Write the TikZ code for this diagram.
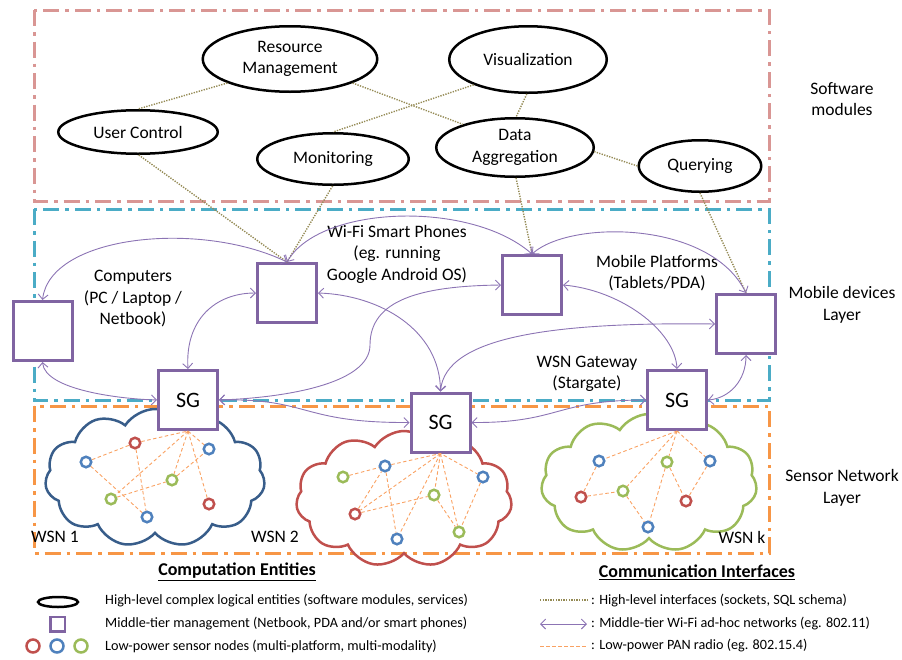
\documentclass[tikz,border=0pt]{standalone}
\usepackage{fontspec}
\setmainfont{Carlito}
\usetikzlibrary{shapes.geometric,shapes.symbols,arrows.meta}
\definecolor{swpink}{HTML}{D99694}
\definecolor{mobcyan}{HTML}{4BACC6}
\definecolor{snorange}{HTML}{F79646}
\definecolor{devpurple}{HTML}{8064A2}
\definecolor{arrpurple}{HTML}{8C74B4}
\definecolor{hlolive}{HTML}{948A54}
\definecolor{cblue}{HTML}{385D8A}
\definecolor{cred}{HTML}{C0504D}
\definecolor{cgreen}{HTML}{9BBB59}
\definecolor{nblue}{HTML}{4F81BD}
\definecolor{panor}{HTML}{F9A263}
\newcommand\lblfont{\fontsize{17.5}{21.5}\selectfont}
\newcommand\headfont{\fontsize{18}{21}\selectfont}
\newcommand\sgfont{\fontsize{22}{24}\selectfont}
\newcommand\legfont{\fontsize{14.2}{16}\selectfont}
\tikzset{
  layerbox/.style={line width=3pt, dash pattern=on 16pt off 6pt on 3.5pt off 6pt},
  modnode/.style={ellipse, draw=black, fill=white, line width=2.5pt, inner sep=0pt, align=center, font=\lblfont},
  devbox/.style={rectangle, draw=devpurple, fill=white, line width=3pt, minimum size=59pt, inner sep=0pt, font=\sgfont},
  hlink/.style={draw=hlolive, line width=1.4pt, dash pattern=on 1.3pt off 1.3pt},
  wifi/.style={draw=arrpurple, line width=0.9pt, {Straight Barb[length=5pt,width=10pt]}-{Straight Barb[length=5pt,width=10pt]}},
  pan/.style={draw=panor, line width=0.9pt, dash pattern=on 3.5pt off 2.5pt},
  snode/.style={circle, draw=#1, fill=white, line width=2.5pt, minimum size=10.5pt, inner sep=0pt},
  wsncloud/.style={cloud, cloud puffs=11, cloud puff arc=115, cloud ignores aspect, draw=#1, line width=2.5pt, inner sep=0pt},
  lbl/.style={align=center, font=\lblfont, inner sep=0pt},
  legtxt/.style={anchor=west, font=\legfont, inner sep=0pt},
}
\begin{document}
\begin{tikzpicture}[x=1pt,y=-1pt]
\useasboundingbox (0,0) rectangle (902,659);

% layer frames
\draw[layerbox, draw=swpink] (34,10) rectangle (769,201);
\draw[layerbox, draw=mobcyan] (34,209) rectangle (769,400);
\draw[layerbox, draw=snorange] (34,406) rectangle (769,553);

% layer labels
\node[lbl] (lsw) at (842,99) {Software\\modules};
\node[lbl] (lmob) at (842,305) {Mobile devices\\Layer};
\node[lbl] (lsn) at (842,488) {Sensor Network\\Layer};

% software modules
\node[modnode, minimum width=174.5pt, minimum height=65.5pt] (rm) at (290,59) {Resource\\Management};
\node[modnode, minimum width=157.5pt, minimum height=66.5pt] (vis) at (528,59.5) {Visualization};
\node[modnode, minimum width=159.5pt, minimum height=43.5pt] (uc) at (138,132) {User Control};
\node[modnode, minimum width=151.5pt, minimum height=51.5pt] (mon) at (333,159) {Monitoring};
\node[modnode, minimum width=157.5pt, minimum height=58.5pt] (da) at (515,147.5) {Data\\Aggregation};
\node[modnode, minimum width=122.5pt, minimum height=51.5pt] (qry) at (700,166) {Querying};

% clouds
\node[wsncloud=cblue, minimum width=220pt, minimum height=138pt] (cl1) at (155,478) {};
\node[wsncloud=cred, minimum width=216pt, minimum height=136pt] (cl2) at (404,499) {};
\node[wsncloud=cgreen, minimum width=216pt, minimum height=138pt] (cl3) at (649,483) {};

% device boxes
\node[devbox] (comp) at (42.5,331) {};
\node[devbox] (ph1) at (287,293) {};
\node[devbox] (ph2) at (532,285) {};
\node[devbox] (mob) at (746,324) {};
\node[devbox] (sg1) at (188,400) {SG};
\node[devbox] (sg2) at (440.5,422.5) {SG};
\node[devbox] (sg3) at (677,400) {SG};

% device labels
\node[lbl] (lcomp) at (133,299) {Computers\\(PC / Laptop /\\Netbook)};
\node[lbl] (lph) at (397,254) {Wi-Fi Smart Phones\\(eg. running\\Google Android OS)};
\node[lbl] (lmp) at (657,273) {Mobile Platforms\\(Tablets/PDA)};
\node[lbl] (lgw) at (587,374) {WSN Gateway\\(Stargate)};
\node[lbl] (w1) at (55,537) {WSN 1};
\node[lbl] (w2) at (275,537) {WSN 2};
\node[lbl] (wk) at (742,537) {WSN k};

% high-level interfaces
\draw[hlink] (rm.201) -- (uc.90);
\draw[hlink] (rm.339) -- (da.156);
\draw[hlink] (vis.205) -- (mon.90);
\draw[hlink] (vis.-92) -- (da.88);
\draw[hlink] (da.-3) -- (qry.180);
\draw[hlink] (uc.-88) -- (ph1.north);
\draw[hlink] (mon.-91) -- (ph1.north);
\draw[hlink] (da.-88) -- (ph2.north);
\draw[hlink] (qry.-90) -- (mob.north);

% sensor nodes WSN 1
\node[snode=cred] (a1) at (135,443) {};
\node[snode=nblue] (b1) at (86,462) {};
\node[snode=nblue] (c1) at (209,449) {};
\node[snode=cgreen] (d1) at (172,480) {};
\node[snode=cgreen] (e1) at (111,499) {};
\node[snode=cred] (f1) at (209,504) {};
\node[snode=nblue] (g1) at (147,517) {};
% WSN 2
\node[snode=cgreen] (a2) at (343,477) {};
\node[snode=nblue] (b2) at (385,466) {};
\node[snode=nblue] (c2) at (483,477) {};
\node[snode=cgreen] (d2) at (434,495) {};
\node[snode=cred] (e2) at (355,514) {};
\node[snode=nblue] (f2) at (397,539) {};
\node[snode=cgreen] (g2) at (459,532) {};
% WSN k
\node[snode=nblue] (a3) at (599,461) {};
\node[snode=cgreen] (b3) at (667,462) {};
\node[snode=nblue] (c3) at (710,461) {};
\node[snode=cred] (d3) at (581,497) {};
\node[snode=cgreen] (e3) at (623,491) {};
\node[snode=cred] (f3) at (686,501) {};
\node[snode=nblue] (g3) at (648,527) {};

% PAN radio links
\draw[pan] (b1) -- (a1) -- (sg1.south) -- (c1);
\draw[pan] (sg1.south) -- (d1);
\draw[pan] (sg1.south) -- (e1);
\draw[pan] (sg1.south) -- (f1);
\draw[pan] (e1) -- (d1) -- (c1);
\draw[pan] (b1) -- (g1);
\draw[pan] (a1) -- (g1);

\draw[pan] (a2) -- (b2) -- (sg2.south) -- (c2);
\draw[pan] (sg2.south) -- (e2);
\draw[pan] (e2) -- (b2);
\draw[pan] (e2) -- (d2);
\draw[pan] (b2) -- (f2);
\draw[pan] (sg2.south) -- (f2);
\draw[pan] (sg2.south) -- (d2);
\draw[pan] (sg2.south) -- (g2);
\draw[pan] (c2) -- (g2);
\draw[pan] (d2) -- (g2);

\draw[pan] (sg3.south) -- (a3);
\draw[pan] (sg3.south) -- (e3);
\draw[pan] (sg3.south) -- (b3);
\draw[pan] (sg3.south) -- (c3);
\draw[pan] (b3) -- (g3);
\draw[pan] (b3) -- (f3);
\draw[pan] (c3) -- (f3);
\draw[pan] (a3) -- (d3) -- (e3) -- (g3);

% Wi-Fi links
\draw[wifi] (comp.north) .. controls (50,235) and (200,220) .. (ph1.north);
\draw[wifi] (ph1.north) .. controls (320,205) and (470,200) .. (ph2.north);
\draw[wifi] (ph2.north) .. controls (570,220) and (710,220) .. (mob.north);
\draw[wifi] (ph1.west) .. controls (215,293) and (185,320) .. (sg1.north);
\draw[wifi] (ph1.east) .. controls (380,295) and (440,330) .. (sg2.north);
\draw[wifi] (ph2.west) .. controls (420,286) and (370,300) .. (370,345) .. controls (370,385) and (280,398) .. (sg1.east);
\draw[wifi] (ph2.east) .. controls (620,290) and (675,330) .. (sg3.north);
\draw[wifi] (mob.west) .. controls (560,322) and (445,335) .. (sg2.north);
\draw[wifi] (mob.south) .. controls (746,380) and (730,398) .. (sg3.east);
\draw[wifi] (comp.south) .. controls (45,390) and (120,399) .. (sg1.west);
\draw[wifi] (sg1.east) .. controls (310,398) and (300,423) .. (sg2.west);
\draw[wifi] (sg2.east) .. controls (560,423) and (555,400) .. (sg3.west);

% legend: computation entities
\node[font=\headfont\bfseries, inner sep=0pt] (hce) at (237,572) {\underline{Computation Entities}};
\node[ellipse, draw=black, line width=2.5pt, minimum width=40pt, minimum height=10pt, inner sep=0pt] (lge) at (58,602) {};
\node[rectangle, draw=devpurple, line width=2.5pt, minimum size=14.5pt, inner sep=0pt] (lgs) at (57.5,624) {};
\node[snode=cred, minimum size=13pt] (lgr) at (33,646) {};
\node[snode=nblue, minimum size=13pt] (lgb) at (57,646) {};
\node[snode=cgreen, minimum size=13pt] (lgg) at (81,646) {};
\node[legtxt] (t1) at (105,601) {High-level complex logical entities (software modules, services)};
\node[legtxt] (t2) at (105,624) {Middle-tier management (Netbook, PDA and/or smart phones)};
\node[legtxt] (t3) at (105,646) {Low-power sensor nodes (multi-platform, multi-modality)};

% legend: communication interfaces
\node[font=\headfont\bfseries, inner sep=0pt] (hci) at (697,572) {\underline{Communication Interfaces}};
\coordinate (l1a) at (540,600); \coordinate (l1b) at (587,600);
\coordinate (l2a) at (540,624); \coordinate (l2b) at (587,624);
\coordinate (l3a) at (540,646); \coordinate (l3b) at (587,646);
\draw[hlink, line width=1.2pt] (l1a) -- (l1b);
\draw[wifi] (l2a) -- (l2b);
\draw[pan] (l3a) -- (l3b);
\node[legtxt] (u1) at (591,601) {: High-level interfaces (sockets, SQL schema)};
\node[legtxt] (u2) at (591,624) {: Middle-tier Wi-Fi ad-hoc networks (eg. 802.11)};
\node[legtxt] (u3) at (591,646) {: Low-power PAN radio (eg. 802.15.4)};
\end{tikzpicture}
\end{document}
